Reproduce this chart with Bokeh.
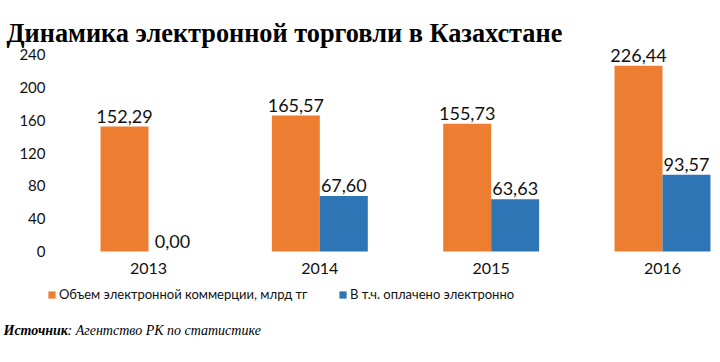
from bokeh.plotting import figure
from bokeh.models import (Range1d, FixedTicker, Label, Legend, LegendItem,
                          ColumnDataSource, LinearAxis)
from bokeh.core.properties import value
from bokeh.embed import file_html
from bokeh.resources import INLINE

# ---- data ----
years = ["2013", "2014", "2015", "2016"]
ecommerce = [152.29, 165.57, 155.73, 226.44]
paid_online = [0.00, 67.60, 63.63, 93.57]
y_ticks = [0, 40, 80, 120, 160, 200, 240]
series_names = ["Объем электронной коммерции, млрд тг", "В т.ч. оплачено электронно"]
title_text = "Динамика электронной торговли в Казахстане"
source_bold = "Источник"
source_rest = ": Агентство РК по статистике"

ORANGE = "#ED7D31"
BLUE = "#2E75B6"
SANS = "Lato"
SERIF = "Liberation Serif"
TXT = "#111111"

idx = list(range(len(years)))
bw = 0.28

p = figure(width=720, height=362, output_backend="svg", toolbar_location=None,
           x_range=Range1d(-0.8638, 3.3385), y_range=Range1d(-135.23, 305.80),
           min_border=0, min_border_left=0, min_border_right=0,
           min_border_top=0, min_border_bottom=0,
           background_fill_color="white", border_fill_color="white",
           outline_line_color=None, x_axis_type=None, y_axis_type=None)

src = ColumnDataSource(dict(
    x1=[i - bw / 2 for i in idx], x2=[i + bw / 2 for i in idx],
    v1=ecommerce, v2=paid_online,
    t1=[f"{v:.2f}".replace(".", ",") for v in ecommerce],
    t2=[f"{v:.2f}".replace(".", ",") for v in paid_online],
))

r1 = p.vbar(x="x1", top="v1", width=bw, bottom=0, source=src,
            fill_color=ORANGE, line_color=None)
r2 = p.vbar(x="x2", top="v2", width=bw, bottom=0, source=src,
            fill_color=BLUE, line_color=None)

for xcol, vcol, tcol in (("x1", "v1", "t1"), ("x2", "v2", "t2")):
    p.text(x=xcol, y=vcol, text=tcol, source=src, text_align="center",
           text_baseline="bottom", y_offset=-4, text_font=value(SANS),
           text_font_size="18px", text_color=TXT)

p.xgrid.visible = False
p.ygrid.visible = False

xaxis = LinearAxis(ticker=FixedTicker(ticks=idx), fixed_location=0,
                   major_label_overrides={i: y for i, y in zip(idx, years)})
yaxis = LinearAxis(ticker=FixedTicker(ticks=y_ticks), fixed_location=-0.5603)
for ax in (xaxis, yaxis):
    ax.axis_line_color = None
    ax.major_tick_line_color = None
    ax.minor_tick_line_color = None
    ax.major_tick_out = 0
    ax.major_tick_in = 0
    ax.major_label_text_font = SANS
    ax.major_label_text_font_size = "15px"
    ax.major_label_text_color = TXT
xaxis.major_label_text_font_size = "16px"
xaxis.major_label_standoff = 11
yaxis.major_label_standoff = 7
p.add_layout(xaxis, "below")
p.add_layout(yaxis, "left")

# legends (two, placed separately)
for r, name, loc in ((r1, series_names[0], (47, 58)), (r2, series_names[1], (338, 58))):
    lg = Legend(items=[LegendItem(label=name, renderers=[r])], location=loc,
                orientation="horizontal", padding=0, margin=0, spacing=0,
                border_line_color=None, background_fill_alpha=0,
                glyph_width=9, glyph_height=9, label_standoff=3,
                label_text_font=SANS, label_text_font_size="13px",
                label_text_color=TXT, label_height=20)
    p.add_layout(lg, "center")

# title and source
p.add_layout(Label(x=6, y=329, x_units="screen", y_units="screen", text=title_text,
                   text_font=SERIF, text_font_style="bold", text_font_size="26.3px",
                   text_baseline="alphabetic", text_color="#000000"))
p.add_layout(Label(x=3, y=32, x_units="screen", y_units="screen", text=source_bold,
                   text_font=SERIF, text_font_style="bold italic", text_font_size="14px",
                   text_baseline="alphabetic", text_color="#000000"))
p.add_layout(Label(x=67, y=32, x_units="screen", y_units="screen", text=source_rest,
                   text_font=SERIF, text_font_style="italic", text_font_size="14px",
                   text_baseline="alphabetic", text_color="#000000"))

open("out.html", "w").write(file_html(p, INLINE))
